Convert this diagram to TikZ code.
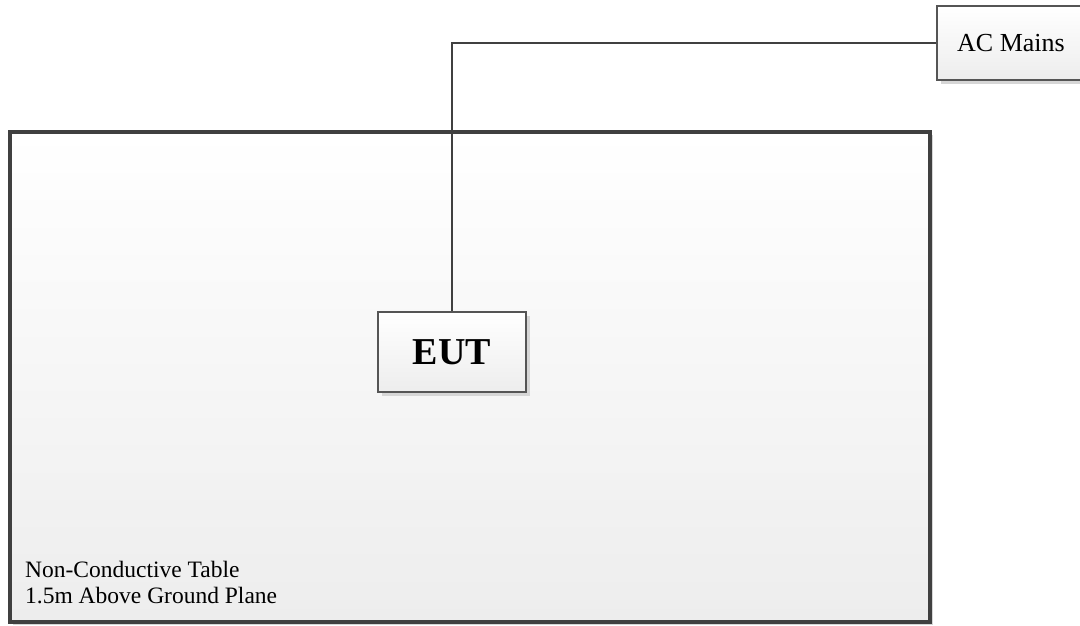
\documentclass[tikz,border=0pt]{standalone}
\usepackage{fontspec}
\setmainfont{Liberation Serif}
\usetikzlibrary{shadows}
\definecolor{edge}{HTML}{404040}
\definecolor{boxedge}{HTML}{555555}
\definecolor{shade}{HTML}{EDEDED}
\definecolor{shadowgrey}{HTML}{D6D6D6}
\tikzset{
  tablebox/.style={draw=edge, line width=3.8pt, top color=white, bottom color=shade,
    minimum width=920pt, minimum height=490pt, inner sep=0pt,
    drop shadow={shadow xshift=3pt, shadow yshift=-3pt, fill=shadowgrey, opacity=1}},
  unitbox/.style={draw=boxedge, line width=1.4pt, top color=white, bottom color=shade,
    inner sep=0pt,
    drop shadow={shadow xshift=4pt, shadow yshift=-4pt, fill=shadowgrey, opacity=1}},
  wire/.style={draw=edge, line width=2.7pt},
  labeltext/.style={font=\fontsize{23.5}{26}\selectfont, text=black, inner sep=0pt}
}
\begin{document}
\begin{tikzpicture}[x=1pt, y=-1pt]
  \useasboundingbox (0,0) rectangle (1080,625);
  % table surface
  \node[tablebox] (table) at (470,377) {};
  \node[labeltext, anchor=base west] (tabletext) at (25,577)
    {Non-Conductive Table};
  \node[labeltext, anchor=base west] (tabletext2) at (25,603)
    {1.5m Above Ground Plane};
  % equipment under test
  \node[unitbox, minimum width=148pt, minimum height=80pt,
        font=\bfseries\fontsize{38}{40}\selectfont] (eut) at (452,352) {EUT};
  % mains supply
  \node[unitbox, minimum width=148pt, minimum height=74pt,
        font=\fontsize{26}{28}\selectfont] (mains) at (1011,43) {AC Mains};
  % power cord
  \draw[wire] (eut.north) |- (mains.west);
\end{tikzpicture}
\end{document}
